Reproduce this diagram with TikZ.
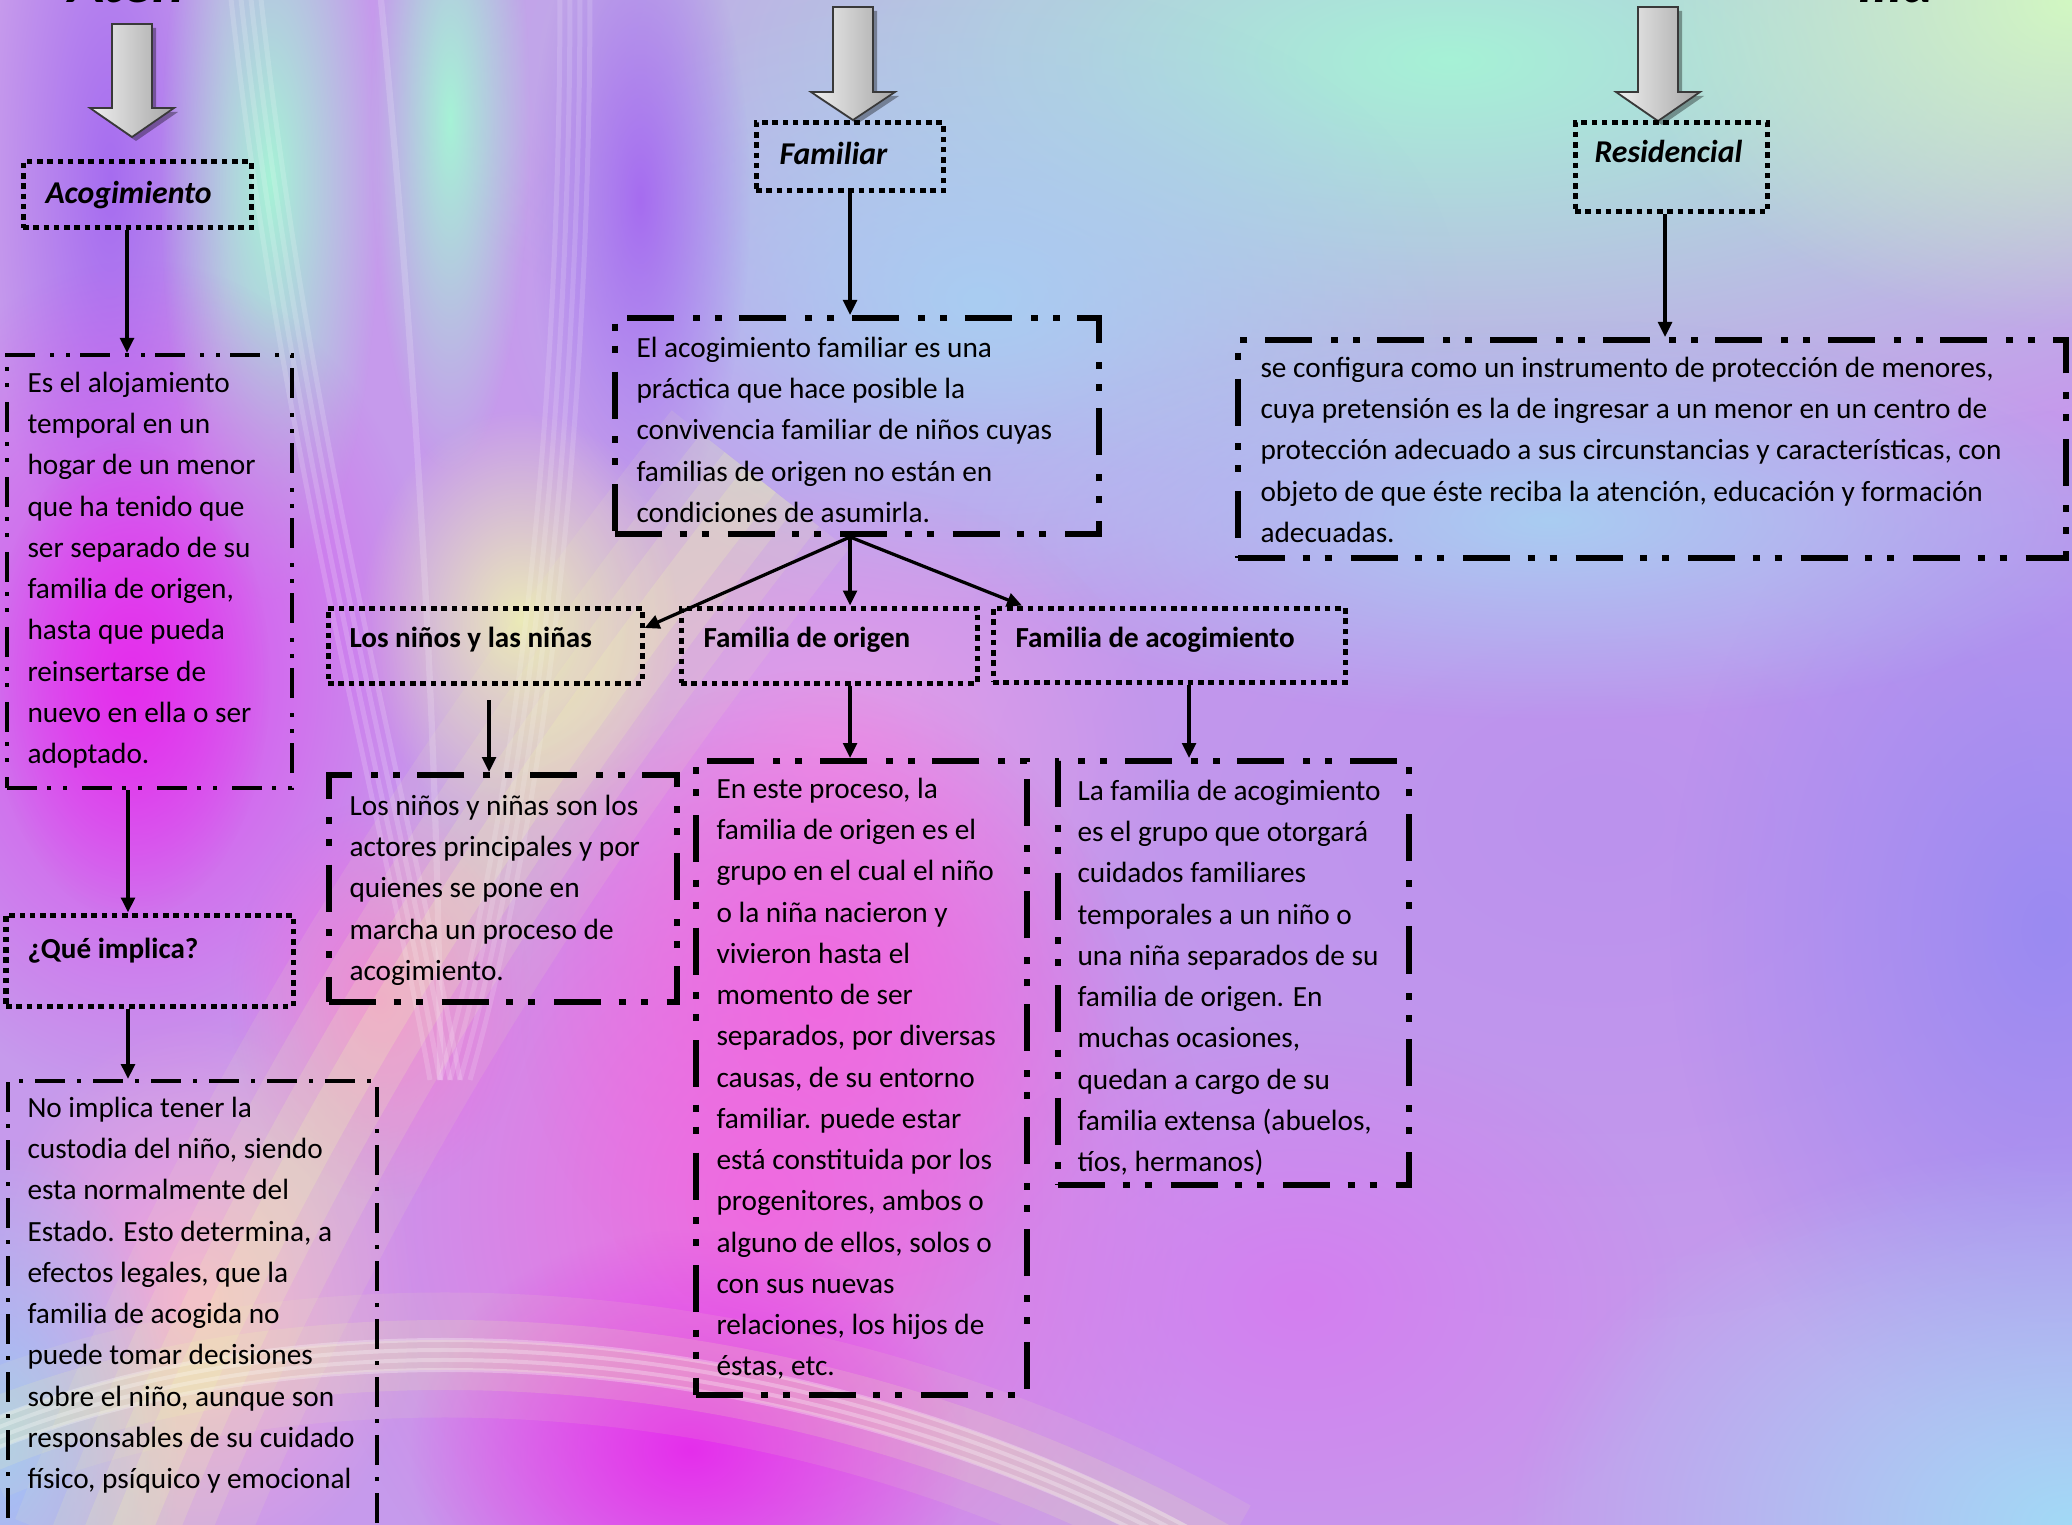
\documentclass[tikz,border=0pt]{standalone}
\usepackage{fontspec}
\setmainfont{Carlito}
\usetikzlibrary{arrows.meta,fadings,fit}
\tikzfading[name=blob, inner color=transparent!0, outer color=transparent!100]
\definecolor{bgbase}{HTML}{C69AEC}
\definecolor{mint}{HTML}{A6F2D6}
\definecolor{limey}{HTML}{D2F8C2}
\definecolor{skyb}{HTML}{A9CDF2}
\definecolor{viol}{HTML}{A66CF0}
\definecolor{magv}{HTML}{DC48F0}
\definecolor{magc}{HTML}{E52EEC}
\definecolor{paley}{HTML}{F2F7B0}
\definecolor{pinkl}{HTML}{E79CE8}
\definecolor{pinkp}{HTML}{F5A6D8}
\definecolor{pinkm}{HTML}{F06AE0}
\definecolor{lavr}{HTML}{BB92EE}
\definecolor{bviol}{HTML}{9A8AF2}
\definecolor{cyanl}{HTML}{A2DAF6}
\definecolor{bluel}{HTML}{A0C6F4}
\definecolor{purm}{HTML}{D47EF0}
\newcommand\grayarrow[4]{%
  \fill[black, opacity=0.35] ({#1-20+4},{#2+4}) -- ({#1+20+4},{#2+4}) -- ({#1+20+4},{#3+4}) -- ({#1+42+4},{#3+4}) -- ({#1+4},{#4+4}) -- ({#1-42+4},{#3+4}) -- ({#1-20+4},{#3+4}) -- cycle;
  \shade[left color=gray!12, right color=gray!70, draw=gray!45!black, line width=0.7pt]
    ({#1-20},#2) -- ({#1+20},#2) -- ({#1+20},#3) -- ({#1+42},#3) -- (#1,#4) -- ({#1-42},#3) -- ({#1-20},#3) -- cycle;}
\begin{document}
\begin{tikzpicture}[x=0.4pt,y=-0.4pt,
  dotbox/.style={draw=black, line width=2pt, dash pattern=on 2.2pt off 1.9pt, inner sep=0pt},
  thickdd/.style={draw=black, line width=2.4pt, dash pattern=on 18.8pt off 7pt on 2.8pt off 6pt on 2.8pt off 7.6pt, inner sep=0pt},
  thindd/.style={draw=black, line width=1.6pt, dash pattern=on 12pt off 4pt on 1.6pt off 4.8pt on 1.6pt off 6pt, inner sep=0pt},
  thind/.style={draw=black, line width=1.6pt, dash pattern=on 12pt off 4.8pt on 1.6pt off 4.8pt, inner sep=0pt},
  body/.style={anchor=north west, inner sep=0pt, align=left, font=\fontsize{11.72}{16.5}\selectfont},
  headb/.style={anchor=base west, inner sep=0pt, font=\bfseries\fontsize{11.64}{14}\selectfont},
  headi/.style={anchor=base west, inner sep=0pt, font=\bfseries\itshape\fontsize{12.7}{15}\selectfont},
  conn/.style={draw=black, line width=1.3pt, -{Triangle[length=6pt,width=5.5pt]}},
  streak/.style={draw=white, line cap=butt}]
\useasboundingbox (0,0) rectangle (2072,1525);
\clip (0,0) rectangle (2072,1525);
% ---------------- background ----------------
\fill[bgbase] (0,0) rectangle (2072,1525);
\fill[lavr, path fading=blob] (1600,820) ellipse [x radius=700, y radius=500];
\fill[bviol, path fading=blob] (2050,930) ellipse [x radius=380, y radius=520];
\fill[mint, path fading=blob] (1450,60) ellipse [x radius=1050, y radius=430];
\fill[limey, path fading=blob] (2072,0) ellipse [x radius=450, y radius=330];
\fill[skyb, path fading=blob] (980,300) ellipse [x radius=480, y radius=320];
\fill[skyb, path fading=blob] (1550,520) ellipse [x radius=600, y radius=200];
\fill[viol, path fading=blob] (110,180) ellipse [x radius=120, y radius=420];
\fill[mint, path fading=blob] (270,180) ellipse [x radius=110, y radius=420];
\fill[mint, path fading=blob] (450,120) ellipse [x radius=80, y radius=350];
\fill[viol, path fading=blob] (640,200) ellipse [x radius=110, y radius=320];
\fill[magv, path fading=blob] (140,680) ellipse [x radius=300, y radius=420];
\fill[magc, path fading=blob] (130,680) ellipse [x radius=140, y radius=240];
\fill[pinkl, path fading=blob] (830,760) ellipse [x radius=330, y radius=280];
\fill[paley, path fading=blob, fill opacity=0.85] (520,620) ellipse [x radius=160, y radius=210];
\fill[pinkm, path fading=blob] (760,1200) ellipse [x radius=450, y radius=520];
\fill[pinkm, path fading=blob] (820,1000) ellipse [x radius=300, y radius=330];
\fill[magc, path fading=blob] (690,1450) ellipse [x radius=280, y radius=220];
\fill[purm, path fading=blob] (1300,1300) ellipse [x radius=380, y radius=280];
\fill[cyanl, path fading=blob] (2072,1525) ellipse [x radius=560, y radius=380];
\fill[pinkp, path fading=blob] (200,1300) ellipse [x radius=220, y radius=280];
\fill[bluel, path fading=blob] (0,1440) ellipse [x radius=180, y radius=300];
\fill[pinkm, path fading=blob] (380,1000) ellipse [x radius=150, y radius=200];
% soft diagonal yellow streak
\foreach \w/\o in {90/0.10,60/0.14,36/0.18,16/0.22}{
  \draw[paley, line width=\w, opacity=\o] (120,1560) .. controls (260,1200) and (460,860) .. (760,480);
}
% bottom arc
\foreach \w/\o in {50/0.10,28/0.16,12/0.2}{
  \draw[paley, line width=\w, opacity=\o] (-20,1440) .. controls (260,1320) and (760,1300) .. (1220,1560);
}
\foreach \dy in {0,10,20,30}{
  \draw[streak, opacity=0.28, line width=1.6] (-20,{1425+\dy}) .. controls (260,{1305+\dy}) and (760,{1285+\dy}) .. (1220,{1545+\dy});
}
% faint vertical fan streaks
\foreach \dx in {0,10,20,30}{
  \draw[streak, opacity=0.16, line width=2] ({230+\dx},-10) .. controls ({280+\dx},450) and ({380+\dx},800) .. ({430+\dx},1080);
  \draw[streak, opacity=0.14, line width=2] ({560+\dx},-10) .. controls ({560+\dx},400) and ({520+\dx},800) .. ({440+\dx},1080);
}
\draw[streak, opacity=0.16, line width=2.5] (380,-10) .. controls (420,400) and (440,800) .. (440,1080);
% ---------------- title fragments ----------------
\node[anchor=base west, inner sep=0pt, font=\bfseries\itshape\fontsize{24}{28}\selectfont] (tl) at (68,3) {Aten};
\node[anchor=base west, inner sep=0pt, font=\bfseries\itshape\fontsize{24}{28}\selectfont] (tr) at (1858,3) {ilia};
% ---------------- gray arrows ----------------
\grayarrow{132}{24}{108}{137}
\grayarrow{853}{7}{92}{120}
\grayarrow{1658}{7}{92}{121}
% ---------------- heading boxes ----------------
\node[dotbox, fit={(23,162)(251,228)}] (acog) {};
\node[dotbox, fit={(756,123)(943,191)}] (fam) {};
\node[dotbox, fit={(1575,123)(1767,212)}] (res) {};
\node[headi] (acogt) at (45,204) {Acogimiento};
\node[headi] (famt) at (779,165) {Familiar};
\node[headi] (rest) at (1594,163) {Residencial};
% ---------------- text boxes ----------------
\node[thindd, fit={(7,355)(292,788)}] (box1) {};
\node[thickdd, fit={(615,318)(1099,534)}] (box2) {};
\node[thickdd, fit={(1238,340)(2066,558)}] (box3) {};
\node[dotbox, fit={(328,608)(642,683)}] (ninos) {};
\node[dotbox, fit={(681,608)(977,683)}] (forig) {};
\node[dotbox, fit={(993,608)(1345,682)}] (facog) {};
\node[headb] (ninost) at (349,647) {Los niños y las niñas};
\node[headb] (forigt) at (703,647) {Familia de origen};
\node[headb] (facogt) at (1015,647) {Familia de acogimiento};
\node[thickdd, fit={(329,775)(677,1002)}] (box4) {};
\node[thickdd, fit={(696,761)(1027,1395)}] (box5) {};
\node[thickdd, fit={(1058,761)(1409,1185)}] (box6) {};
\node[dotbox, fit={(6,915)(293,1006)}] (que) {};
\node[headb] (quet) at (27,958) {¿Qué implica?};
\node[thind, fit={(8,1081)(377,1560)}] (box7) {};
% ---------------- texts ----------------
\node[body] (t1) at (27,363.1) {\strut Es el alojamiento\\temporal en un\\hogar de un menor\\que ha tenido que\\ser separado de su\\familia de origen,\\hasta que pueda\\reinsertarse de\\nuevo en ella o ser\\adoptado.};
\node[body] (t2) at (636,328.1) {\strut El acogimiento familiar es una\\práctica que hace posible la\\convivencia familiar de niños cuyas\\familias de origen no están en\\condiciones de asumirla.};
\node[body] (t3) at (1260,348.1) {\strut se configura como un instrumento de protección de menores,\\cuya pretensión es la de ingresar a un menor en un centro de\\protección adecuado a sus circunstancias y características, con\\objeto de que éste reciba la atención, educación y formación\\adecuadas.};
\node[body] (t4) at (349,786.1) {\strut Los niños y niñas son los\\actores principales y por\\quienes se pone en\\marcha un proceso de\\acogimiento.};
\node[body] (t5) at (716,769.1) {\strut En este proceso, la\\familia de origen es el\\grupo en el cual el niño\\o la niña nacieron y\\vivieron hasta el\\momento de ser\\separados, por diversas\\causas, de su entorno\\familiar. puede estar\\está constituida por los\\progenitores, ambos o\\alguno de ellos, solos o\\con sus nuevas\\relaciones, los hijos de\\éstas, etc.};
\node[body] (t6) at (1077,771.1) {\strut La familia de acogimiento\\es el grupo que otorgará\\cuidados familiares\\temporales a un niño o\\una niña separados de su\\familia de origen. En\\muchas ocasiones,\\quedan a cargo de su\\familia extensa (abuelos,\\tíos, hermanos)};
\node[body] (t7) at (27,1088.1) {\strut No implica tener la\\custodia del niño, siendo\\esta normalmente del\\Estado. Esto determina, a\\efectos legales, que la\\familia de acogida no\\puede tomar decisiones\\sobre el niño, aunque son\\responsables de su cuidado\\físico, psíquico y emocional};
% ---------------- connectors ----------------
\coordinate (x127) at (127,0);
\coordinate (x850) at (850,0);
\coordinate (x1665) at (1665,0);
\coordinate (x1022) at (1022,0);
\coordinate (y628) at (0,628);
\coordinate (x1189) at (1189,0);
\coordinate (x128) at (128,0);
\coordinate (ns) at (489,700);
\draw[conn] (acog.south -| x127) -- (box1.north -| x127);
\draw[conn] (fam.south -| x850) -- (box2.north -| x850);
\draw[conn] (res.south -| x1665) -- (box3.north -| x1665);
\draw[conn] (box2.south -| x850) -- (ninos.east |- y628);
\draw[conn] (box2.south -| x850) -- (forig.north -| x850);
\draw[conn] (box2.south -| x850) -- (facog.north -| x1022);
\draw[conn] (ns) -- (box4.north -| ns);
\draw[conn] (forig.south -| x850) -- (box5.north -| x850);
\draw[conn] (facog.south -| x1189) -- (box6.north -| x1189);
\draw[conn] (box1.south -| x128) -- (que.north -| x128);
\draw[conn] (que.south -| x128) -- (box7.north -| x128);
\end{tikzpicture}
\end{document}
